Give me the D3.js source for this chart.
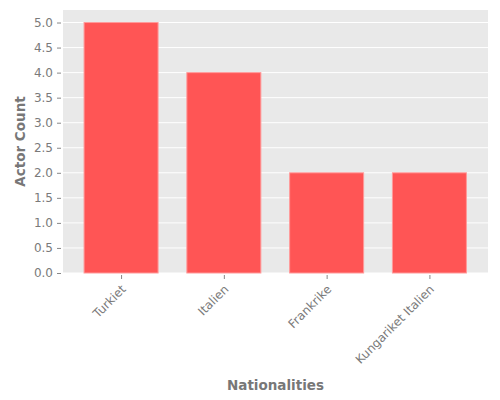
<!DOCTYPE html>
<html><head><meta charset="utf-8">
<script src="https://cdn.jsdelivr.net/npm/d3@7"></script>
<style>body{margin:0;background:#fff}svg{display:block}text{font-family:"DejaVu Sans",sans-serif}</style>
</head><body>
<script>
const categories = ["Turkiet","Italien","Frankrike","Kungariket Italien"];
const counts = [5, 4, 2, 2];
const yTicks = [0,0.5,1,1.5,2,2.5,3,3.5,4,4.5,5];

const W=500,H=400, L=63, R=488, T=10, B=273;
const svg=d3.select("body").append("svg").attr("width",W).attr("height",H);
const x=d3.scaleLinear().domain([-0.565,3.57]).range([L,R]);
const y=d3.scaleLinear().domain([0,5.25]).range([B,T]);
const bw=0.72;

svg.append("rect").attr("x",L).attr("y",T).attr("width",R-L).attr("height",B-T).attr("fill","#E9E9E9");
svg.append("g").selectAll("line").data(yTicks).join("line")
  .attr("x1",L).attr("x2",R).attr("y1",d=>y(d)).attr("y2",d=>y(d))
  .attr("stroke","#fff").attr("stroke-width",1);

svg.append("g").selectAll("rect").data(counts).join("rect")
  .attr("x",(d,i)=>x(i-bw/2)).attr("width",(d,i)=>x(i+bw/2)-x(i-bw/2))
  .attr("y",d=>y(d)).attr("height",d=>B-y(d))
  .attr("fill","#FF5555").attr("stroke","#FF9A9A").attr("stroke-width",1);

const yAxis=d3.axisLeft(y).tickValues(yTicks).tickFormat(d3.format(".1f")).tickSize(4).tickPadding(4);
const ga=svg.append("g").attr("transform",`translate(${L-2},0)`).call(yAxis);
ga.select(".domain").remove();
ga.selectAll("line").attr("stroke","#888");
ga.selectAll("text").attr("fill","#7a7a7a").attr("font-size",12);

const xAxis=d3.axisBottom(x).tickValues(categories.map((c,i)=>i)).tickFormat(i=>categories[i]).tickSize(4);
const gx=svg.append("g").attr("transform",`translate(0,${B+2})`).call(xAxis);
gx.select(".domain").remove();
gx.selectAll("line").attr("stroke","#888");
gx.selectAll("text").attr("fill","#7a7a7a").attr("font-size",12)
  .attr("text-anchor","end").attr("dy",null).attr("y",0)
  .attr("transform","translate(5,15) rotate(-45)");

svg.append("text").attr("x",(L+R)/2).attr("y",390).attr("text-anchor","middle")
  .attr("font-size",13.5).attr("font-weight","bold").attr("fill","#777").text("Nationalities");
svg.append("text").attr("transform",`translate(25,${(T+B)/2}) rotate(-90)`).attr("text-anchor","middle")
  .attr("font-size",13.5).attr("font-weight","bold").attr("fill","#777").text("Actor Count");
</script>
</body></html>
